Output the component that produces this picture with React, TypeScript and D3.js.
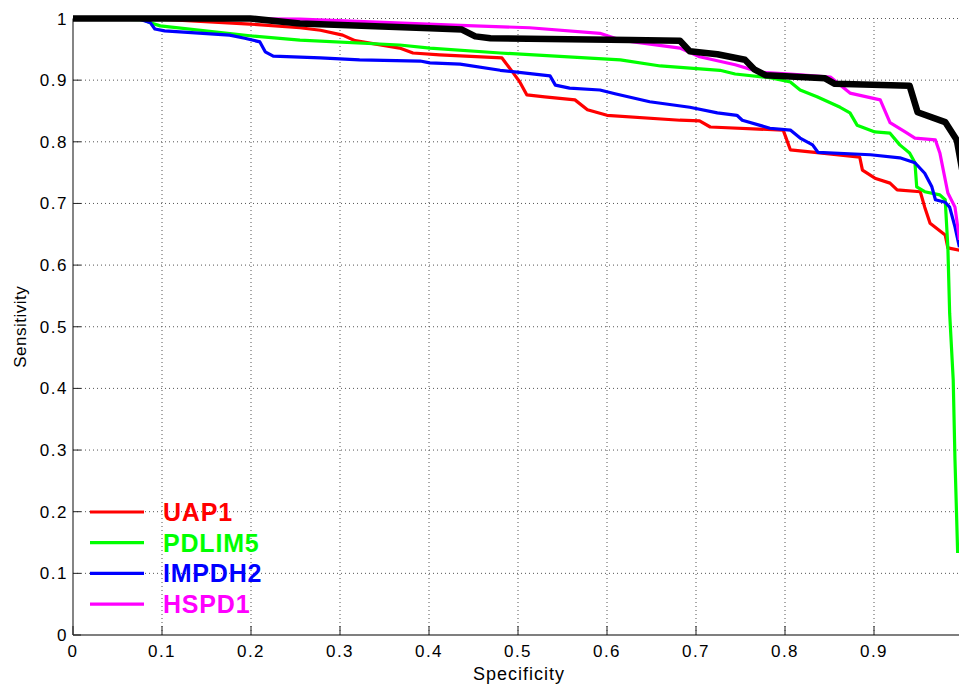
import * as d3 from "d3";
import { useEffect, useRef } from "react";

type Pt = [number, number];

// ROC curves: [specificity, sensitivity]
const uap1: Pt[] = [
  [0, 1], [0.075, 1], [0.098, 0.999], [0.199, 0.991], [0.255, 0.985], [0.278, 0.981],
  [0.303, 0.973], [0.317, 0.964], [0.367, 0.952], [0.382, 0.944], [0.412, 0.941],
  [0.482, 0.936], [0.494, 0.913], [0.502, 0.897], [0.51, 0.876], [0.53, 0.873],
  [0.564, 0.868], [0.578, 0.852], [0.6, 0.843], [0.682, 0.835], [0.704, 0.834],
  [0.716, 0.824], [0.798, 0.819], [0.806, 0.787], [0.839, 0.782], [0.884, 0.775],
  [0.887, 0.754], [0.901, 0.741], [0.918, 0.733], [0.926, 0.722], [0.952, 0.719],
  [0.957, 0.694], [0.963, 0.668], [0.98, 0.649], [0.983, 0.628], [0.996, 0.624],
];

const pdlim5: Pt[] = [
  [0, 1], [0.079, 0.998], [0.087, 0.993], [0.098, 0.988], [0.199, 0.972], [0.255, 0.965],
  [0.367, 0.957], [0.401, 0.952], [0.48, 0.944], [0.615, 0.933], [0.66, 0.923],
  [0.727, 0.916], [0.744, 0.91], [0.783, 0.904], [0.806, 0.897], [0.817, 0.884],
  [0.836, 0.873], [0.862, 0.856], [0.873, 0.847], [0.881, 0.827], [0.901, 0.816],
  [0.918, 0.814], [0.929, 0.795], [0.94, 0.782], [0.946, 0.766], [0.948, 0.727],
  [0.957, 0.719], [0.974, 0.714], [0.98, 0.706], [0.983, 0.629], [0.985, 0.522],
  [0.989, 0.414], [0.991, 0.284], [0.994, 0.133],
];

const impdh2: Pt[] = [
  [0, 1], [0.053, 1], [0.075, 0.999], [0.087, 0.993], [0.092, 0.983], [0.103, 0.98],
  [0.176, 0.973], [0.193, 0.968], [0.21, 0.962], [0.216, 0.946], [0.225, 0.939],
  [0.278, 0.936], [0.322, 0.933], [0.39, 0.931], [0.401, 0.928], [0.435, 0.926],
  [0.48, 0.916], [0.536, 0.907], [0.542, 0.892], [0.558, 0.887], [0.592, 0.884],
  [0.609, 0.878], [0.648, 0.865], [0.693, 0.856], [0.724, 0.847], [0.746, 0.843],
  [0.752, 0.835], [0.783, 0.822], [0.806, 0.819], [0.817, 0.806], [0.831, 0.795],
  [0.837, 0.783], [0.896, 0.779], [0.929, 0.774], [0.946, 0.766], [0.957, 0.749],
  [0.965, 0.727], [0.969, 0.706], [0.98, 0.702], [0.985, 0.694], [0.991, 0.662],
  [0.996, 0.629],
];

const hspd1: Pt[] = [
  [0, 1], [0.143, 1], [0.255, 0.999], [0.435, 0.989], [0.513, 0.985], [0.592, 0.976],
  [0.615, 0.965], [0.682, 0.952], [0.704, 0.938], [0.744, 0.925], [0.772, 0.913],
  [0.806, 0.91], [0.851, 0.905], [0.873, 0.879], [0.907, 0.868], [0.918, 0.831],
  [0.935, 0.816], [0.946, 0.806], [0.969, 0.803], [0.974, 0.782], [0.983, 0.717],
  [0.991, 0.694], [0.996, 0.641],
];

// combined marker (black, not in legend)
const combined: Pt[] = [
  [0, 1], [0.199, 1], [0.255, 0.992], [0.401, 0.984], [0.437, 0.982], [0.452, 0.971],
  [0.469, 0.968], [0.626, 0.965], [0.682, 0.964], [0.693, 0.947], [0.724, 0.942],
  [0.755, 0.933], [0.766, 0.917], [0.778, 0.908], [0.845, 0.903], [0.856, 0.894],
  [0.94, 0.891], [0.949, 0.848], [0.98, 0.832], [0.993, 0.803], [0.999, 0.755],
];

const seriesNames = ["UAP1", "PDLIM5", "IMPDH2", "HSPD1"];
const seriesColors = ["#ff0000", "#00ff00", "#0000ff", "#ff00ff"];
const seriesData = [uap1, pdlim5, impdh2, hspd1];

const xTicks = [0, 0.1, 0.2, 0.3, 0.4, 0.5, 0.6, 0.7, 0.8, 0.9];
const yTicks = [0, 0.1, 0.2, 0.3, 0.4, 0.5, 0.6, 0.7, 0.8, 0.9, 1];

const W = 959;
const H = 687;

export default function App() {
  const svgRef = useRef<SVGSVGElement | null>(null);

  useEffect(() => {
    const svg = d3.select(svgRef.current);
    svg.selectAll("*").remove();

    const x = d3.scaleLinear().domain([0, 1]).range([73, 963]);
    const y = d3.scaleLinear().domain([0, 1]).range([635, 18.5]);
    const font = "Liberation Sans, Arial, sans-serif";

    // dotted grid
    svg
      .append("g")
      .selectAll("line")
      .data(xTicks.filter((d) => d > 0))
      .join("line")
      .attr("x1", (d) => x(d))
      .attr("x2", (d) => x(d))
      .attr("y1", y(0))
      .attr("y2", y(1))
      .attr("stroke", "#555")
      .attr("stroke-width", 1)
      .attr("stroke-dasharray", "1,3");

    svg
      .append("g")
      .selectAll("line")
      .data(yTicks.filter((d) => d > 0))
      .join("line")
      .attr("x1", x(0))
      .attr("x2", W)
      .attr("y1", (d) => y(d))
      .attr("y2", (d) => y(d))
      .attr("stroke", "#555")
      .attr("stroke-width", 1)
      .attr("stroke-dasharray", "1,3");

    // axes lines and inward ticks
    svg
      .append("line")
      .attr("x1", x(0))
      .attr("x2", x(0))
      .attr("y1", y(0))
      .attr("y2", y(1))
      .attr("stroke", "#333")
      .attr("stroke-width", 1.2);
    svg
      .append("line")
      .attr("x1", x(0))
      .attr("x2", W)
      .attr("y1", y(0))
      .attr("y2", y(0))
      .attr("stroke", "#555")
      .attr("stroke-width", 1.5);

    svg
      .append("g")
      .selectAll("line")
      .data(xTicks)
      .join("line")
      .attr("x1", (d) => x(d))
      .attr("x2", (d) => x(d))
      .attr("y1", y(0))
      .attr("y2", y(0) - 9)
      .attr("stroke", "#222");

    svg
      .append("g")
      .selectAll("line")
      .data(yTicks)
      .join("line")
      .attr("x1", x(0))
      .attr("x2", x(0) + 8)
      .attr("y1", (d) => y(d))
      .attr("y2", (d) => y(d))
      .attr("stroke", "#222");

    // tick labels
    svg
      .append("g")
      .selectAll("text")
      .data(xTicks)
      .join("text")
      .attr("x", (d) => x(d))
      .attr("y", 657)
      .attr("text-anchor", "middle")
      .style("font", `17px ${font}`)
      .style("letter-spacing", "1.5px")
      .text((d) => String(d));

    svg
      .append("g")
      .selectAll("text")
      .data(yTicks)
      .join("text")
      .attr("x", 68)
      .attr("y", (d) => y(d) + 6)
      .attr("text-anchor", "end")
      .style("font", `17px ${font}`)
      .style("letter-spacing", "1.5px")
      .text((d) => String(d));

    // axis titles
    svg
      .append("text")
      .attr("x", 519)
      .attr("y", 680)
      .attr("text-anchor", "middle")
      .style("font", `18px ${font}`)
      .style("letter-spacing", "1px")
      .text("Specificity");

    svg
      .append("text")
      .attr("transform", `translate(26, ${(y(0) + y(1)) / 2}) rotate(-90)`)
      .attr("text-anchor", "middle")
      .style("font", `17px ${font}`)
      .style("letter-spacing", "0.5px")
      .text("Sensitivity");

    // curves
    const line = d3
      .line<Pt>()
      .x((d) => x(d[0]))
      .y((d) => y(d[1]));

    seriesData.forEach((data, i) => {
      svg
        .append("path")
        .datum(data)
        .attr("fill", "none")
        .attr("stroke", seriesColors[i])
        .attr("stroke-width", 3.2)
        .attr("stroke-linejoin", "round")
        .attr("d", line);
    });

    svg
      .append("path")
      .datum(combined)
      .attr("fill", "none")
      .attr("stroke", "#000")
      .attr("stroke-width", 6.5)
      .attr("stroke-linejoin", "round")
      .attr("d", line);

    // legend
    const legend = svg
      .append("g")
      .selectAll("g")
      .data(seriesNames)
      .join("g")
      .attr("transform", (d, i) => `translate(0, ${512 + i * 30.7})`);

    legend
      .append("line")
      .attr("x1", 90)
      .attr("x2", 144)
      .attr("stroke", (d, i) => seriesColors[i])
      .attr("stroke-width", 3.2);

    legend
      .append("text")
      .attr("x", 163)
      .attr("y", 9)
      .attr("fill", (d, i) => seriesColors[i])
      .style("font", `bold 25px ${font}`)
      .style("letter-spacing", "0.8px")
      .text((d) => d);
  }, []);

  return (
    <svg
      ref={svgRef}
      width={W}
      height={H}
      style={{ position: "absolute", left: 0, top: 0, background: "#fff" }}
    />
  );
}
